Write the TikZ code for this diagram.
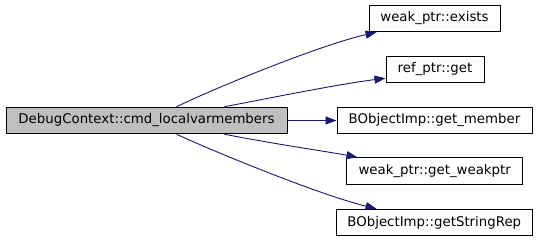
\documentclass[tikz,border=0pt]{standalone}
\usepackage{fontspec}
\setmainfont{DejaVu Sans}
\usetikzlibrary{arrows.meta}
\definecolor{edgeblue}{HTML}{191970}
\definecolor{mainfill}{HTML}{BFBFBF}
\begin{document}
\begin{tikzpicture}[x=1pt,y=-1pt,
  fn/.style={draw=black,line width=1pt,fill=white,inner sep=0pt,minimum height=26.5pt,
    font=\fontsize{13.33}{15}\selectfont,anchor=center},
  callee/.style={draw=edgeblue,line width=0.9pt,-{Triangle[length=11pt,width=8pt]}}]
\useasboundingbox (0,0) rectangle (539,240);
\node[fn,fill=mainfill,minimum width=281pt] (main) at (146.5,120.5) {DebugContext::cmd\_localvarmembers};
\node[fn,minimum width=131pt] (exists) at (434.5,18.5) {weak\_ptr::exists};
\node[fn,minimum width=98pt] (refget) at (435,69.5) {ref\_ptr::get};
\node[fn,minimum width=195pt] (getmember) at (434.5,120.5) {BObjectImp::get\_member};
\node[fn,minimum width=175.5pt] (getweak) at (434.7,171) {weak\_ptr::get\_weakptr};
\node[fn,minimum width=196.5pt] (getstr) at (434.3,222.5) {BObjectImp::getStringRep};
\draw[callee] ([xshift=171pt]main.north west) .. controls (215,88) and (320,45) .. ([xshift=8pt]exists.south west);
\draw[callee] ([xshift=219pt]main.north west) .. controls (280,96) and (340,84) .. ([yshift=5pt]refget.south west);
\draw[callee] (main.east) -- (getmember.west);
\draw[callee] ([xshift=219pt]main.south west) .. controls (280,145) and (330,152) .. ([xshift=11pt]getweak.north west);
\draw[callee] ([xshift=171pt]main.south west) .. controls (215,152) and (320,195) .. ([xshift=41pt]getstr.north west);
\end{tikzpicture}
\end{document}
